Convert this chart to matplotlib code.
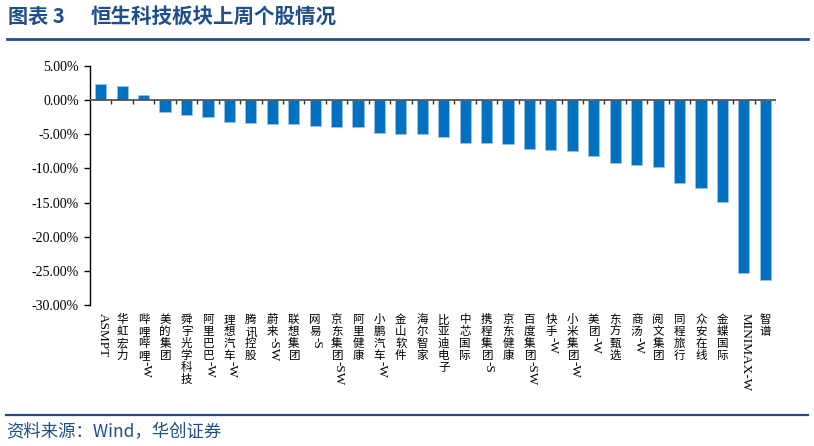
import matplotlib
matplotlib.use("Agg")
import matplotlib.pyplot as plt
import matplotlib.transforms as mtrans
from matplotlib.lines import Line2D
import numpy as np

plt.rcParams['font.family'] = ['Liberation Serif', 'Noto Sans CJK SC', 'DejaVu Sans']

stocks = ["ASMPT", "华虹宏力", "哔哩哔哩-W", "美的集团", "舜宇光学科技", "阿里巴巴-W",
          "理想汽车-W", "腾讯控股", "蔚来-SW", "联想集团", "网易-S", "京东集团-SW",
          "阿里健康", "小鹏汽车-W", "金山软件", "海尔智家", "比亚迪电子", "中芯国际",
          "携程集团-S", "京东健康", "百度集团-SW", "快手-W", "小米集团-W", "美团-W",
          "东方甄选", "商汤-W", "阅文集团", "同程旅行", "众安在线", "金蝶国际",
          "MINIMAX-W", "智谱"]
weekly_change = [2.3, 2.05, 0.7, -1.75, -2.15, -2.5, -3.2, -3.4, -3.45, -3.5,
                 -3.8, -3.95, -4.0, -4.87, -4.9, -4.97, -5.36, -6.2, -6.24, -6.4,
                 -7.2, -7.26, -7.4, -8.2, -9.2, -9.45, -9.75, -12.2, -12.8, -14.95,
                 -25.3, -26.3]
yticks = [5, 0, -5, -10, -15, -20, -25, -30]

BLUE = "#0070C0"
NAVY = "#1F4E8C"
DPI = 100

fig = plt.figure(figsize=(8.14, 4.46), dpi=DPI)
ax = fig.add_axes([0.1106, 0.316, 0.8427, 0.536])

x = np.arange(len(stocks))
ax.bar(x, weekly_change, width=0.52, color=BLUE, edgecolor="#9cc3e6", linewidth=0.5, zorder=2)

ax.set_xlim(-0.5, len(stocks) - 0.5)
ax.set_ylim(-30, 5)
ax.set_yticks(yticks)
ax.set_yticklabels([f"{v:.2f}%" for v in yticks], fontsize=10, family="Liberation Serif")
ax.tick_params(axis="y", direction="out", length=4, width=1, color="black", pad=4)

for s in ["top", "right", "bottom"]:
    ax.spines[s].set_visible(False)
ax.spines["left"].set_color("black")
ax.spines["left"].set_linewidth(1)

# zero line with boundary ticks
ax.axhline(0, color="#555555", linewidth=1.3, zorder=3)
ax.set_xticks([])
for b in np.arange(0.5, len(stocks), 1.0):
    ax.plot([b, b], [0, -0.5], color="#333333", linewidth=1, zorder=3, solid_capstyle="butt")

# vertical category labels: CJK upright stacked, Latin runs rotated
renderer = fig.canvas.get_renderer()
trans = mtrans.blended_transform_factory(ax.transData, ax.transAxes)
FS = 8.3
CJK_STEP = 8.6  # points per stacked character


def segments(label):
    segs, buf = [], ""
    for ch in label:
        if ord(ch) > 0x2E80:
            if buf:
                segs.append(("lat", buf))
                buf = ""
            segs.append(("cjk", ch))
        else:
            buf += ch
    if buf:
        segs.append(("lat", buf))
    return segs


for i, lab in enumerate(stocks):
    off = 6.0
    for kind, txt in segments(lab):
        if kind == "cjk":
            ax.annotate(txt, xy=(i, 0), xycoords=trans, xytext=(0, -off),
                        textcoords="offset points", ha="center", va="top",
                        fontsize=FS, family="Noto Sans CJK SC", annotation_clip=False)
            off += CJK_STEP
        else:
            t = fig.text(0, 0, txt, fontsize=FS + 1.2, family="Liberation Serif")
            w = t.get_window_extent(renderer).width * 72 / DPI
            t.remove()
            ax.annotate(txt, xy=(i, 0), xycoords=trans, xytext=(1.2, -off),
                        textcoords="offset points", ha="center", va="top",
                        rotation=-90, fontsize=FS + 1.2, family="Liberation Serif",
                        annotation_clip=False)
            off += w + 1

# header, rules and source
fig.text(8 / 814, 1 - 16 / 446, "图表 3", fontsize=14.5, fontweight="bold", color=NAVY,
         family=["Noto Sans CJK SC"], va="center", ha="left")
fig.text(91 / 814, 1 - 16 / 446, "恒生科技板块上周个股情况", fontsize=14.8, fontweight="bold",
         color=NAVY, family=["Noto Sans CJK SC"], va="center", ha="left")
fig.add_artist(Line2D([7 / 814, 808 / 814], [1 - 38.5 / 446] * 2, color=NAVY, linewidth=2))
fig.add_artist(Line2D([6 / 814, 808 / 814], [1 - 415 / 446] * 2, color=NAVY, linewidth=1.6))
fig.text(6 / 814, 1 - 432 / 446, "资料来源：Wind，华创证券", fontsize=12.5, color=NAVY,
         style="italic", family=["Noto Sans CJK SC", "DejaVu Sans"], va="center", ha="left")

fig.savefig("out.png", dpi=DPI)
